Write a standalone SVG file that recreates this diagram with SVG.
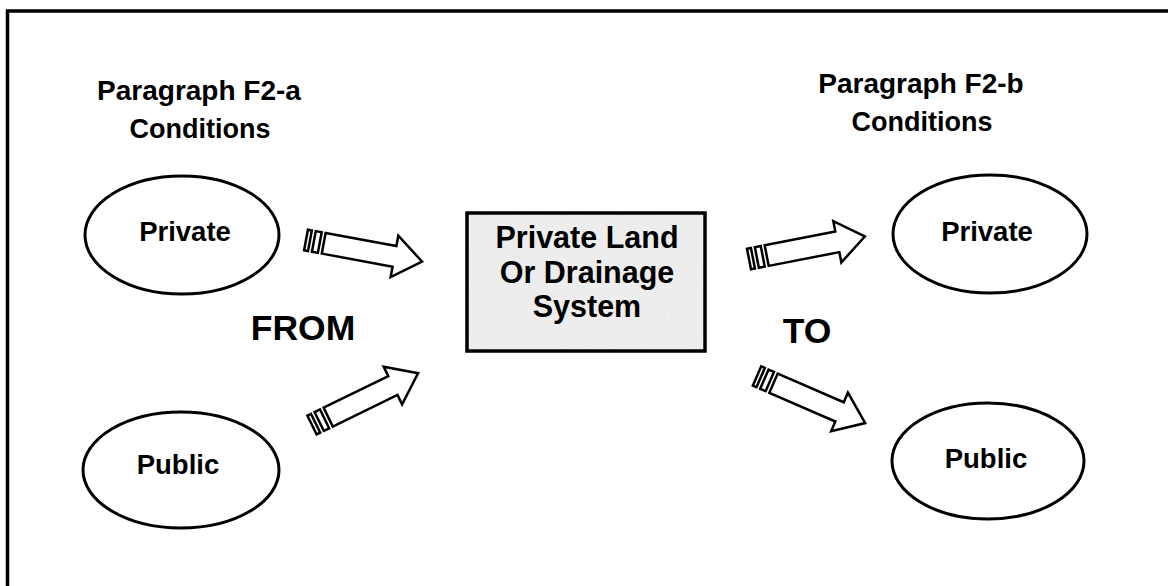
<svg xmlns="http://www.w3.org/2000/svg" xmlns:xlink="http://www.w3.org/1999/xlink" width="1168" height="586" viewBox="0 0 1168 586">
<style>
  .t { font-family: "Liberation Sans", Arial, sans-serif; font-weight: bold; fill: #000; text-anchor: middle; }
  .node { fill: #fff; stroke: #000; stroke-width: 3; }
  .arr { fill: #fff; stroke: #000; stroke-width: 2.5; stroke-linejoin: miter; }
</style>
<defs>
  <filter id="grain" x="0" y="0" width="100%" height="100%">
    <feTurbulence type="fractalNoise" baseFrequency="0.55" numOctaves="3" seed="7" result="n"/>
    <feColorMatrix in="n" type="matrix" values="0 0 0 0 0.55  0 0 0 0 0.55  0 0 0 0 0.55  1.8 0 0 0 -0.75" result="g"/>
    <feComposite in="g" in2="SourceAlpha" operator="in"/>
  </filter>
  <g id="arrow">
    <rect class="arr" x="0" y="-10.5" width="4" height="21"/>
    <rect class="arr" x="8" y="-10.5" width="6" height="21"/>
    <polygon class="arr" points="18,-10.5 90,-10.5 90,-21 118,0 90,21 90,10.5 18,10.5"/>
  </g>
</defs>
<rect x="0" y="0" width="1168" height="586" fill="#fff"/>
<rect x="7.5" y="11" width="1180" height="600" fill="none" stroke="#000" stroke-width="3.5"/>

<g id="heading-left">
  <text class="t" x="199" y="100" font-size="28">Paragraph F2-a</text>
  <text class="t" x="200" y="138" font-size="27">Conditions</text>
</g>
<g id="heading-right">
  <text class="t" x="921" y="93" font-size="28">Paragraph F2-b</text>
  <text class="t" x="922" y="131" font-size="27">Conditions</text>
</g>

<g id="from-private">
  <ellipse class="node" cx="182" cy="235" rx="97" ry="59"/>
  <text class="t" x="185" y="241" font-size="27.5">Private</text>
</g>
<g id="from-public">
  <ellipse class="node" cx="181" cy="470" rx="98" ry="58"/>
  <text class="t" x="178" y="474" font-size="27.5">Public</text>
</g>
<g id="to-private">
  <ellipse class="node" cx="990" cy="234" rx="97" ry="59"/>
  <text class="t" x="987" y="241" font-size="27.5">Private</text>
</g>
<g id="to-public">
  <ellipse class="node" cx="988" cy="461" rx="96" ry="58"/>
  <text class="t" x="986" y="468" font-size="27.5">Public</text>
</g>

<g id="center">
  <rect x="467" y="213" width="238" height="138" fill="#efefef"/>
  <rect x="467" y="213" width="238" height="138" fill="#000" filter="url(#grain)" opacity="0.25"/>
  <rect x="467" y="213" width="238" height="138" fill="none" stroke="#000" stroke-width="3.5"/>
  <text class="t" x="587" y="248" font-size="30.5">Private Land</text>
  <text class="t" x="587" y="283" font-size="30.5">Or Drainage</text>
  <text class="t" x="587" y="317" font-size="30.5">System</text>
</g>

<g id="label-from"><text class="t" x="303" y="340" font-size="35.5">FROM</text></g>
<g id="label-to"><text class="t" x="807" y="343" font-size="35.5">TO</text></g>

<g id="connectors">
  <use xlink:href="#arrow" transform="translate(306,240) rotate(10.5)"/>
  <use xlink:href="#arrow" transform="translate(312,425) rotate(-26)"/>
  <use xlink:href="#arrow" transform="translate(749,259) rotate(-11)"/>
  <use xlink:href="#arrow" transform="translate(757,376) rotate(23.5)"/>
</g>
</svg>
